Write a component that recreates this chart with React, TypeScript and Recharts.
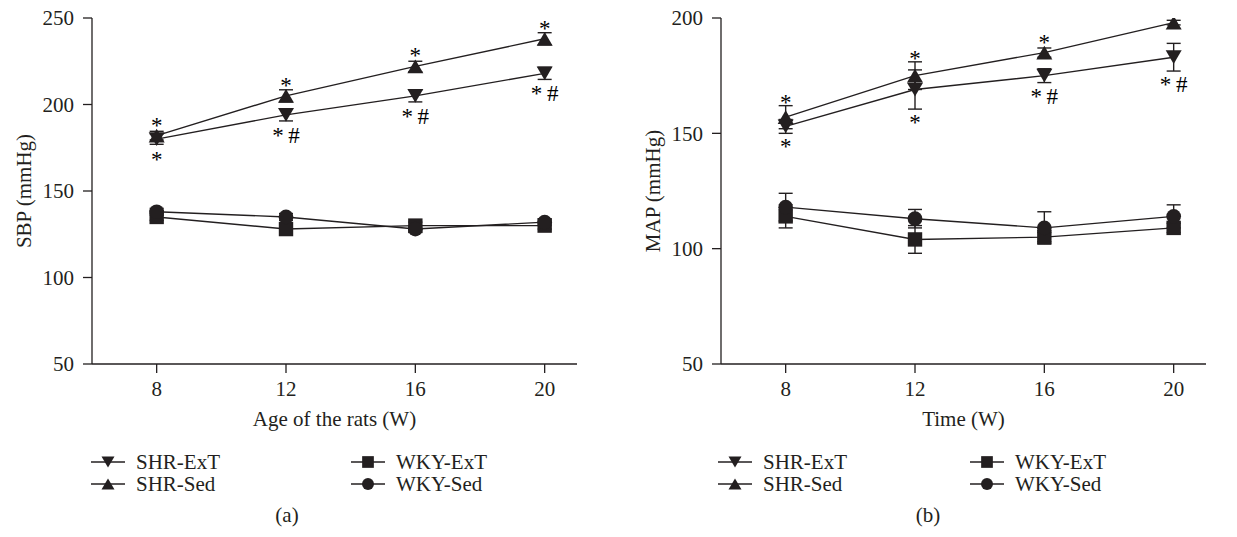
import React from 'react';
import { LineChart, Line, XAxis, YAxis, ErrorBar, Legend } from 'recharts';

// weeks on the x axis
const weeks = [8, 12, 16, 20];
const weekTicks = [8, 12, 16, 20];

// (a) SBP, mmHg
const sbpTicks = [50, 100, 150, 200, 250];
const sbpShrExt = [180, 194, 205, 218];
const sbpShrExtErr = [3, 3.5, 3.5, 3.5];
const sbpShrSed = [182, 205, 222, 238];
const sbpShrSedErr = [2.5, 3.5, 3, 3.5];
const sbpWkyExt = [135, 128, 130, 130];
const sbpWkyExtErr = [2, 2, 2, 2];
const sbpWkySed = [138, 135, 128, 132];
const sbpWkySedErr = [2, 2, 2, 2];
const sbpSedMarks = ['*', '*', '*', '*'];
const sbpExtMarks = ['*', '*\u2009#', '*\u2009#', '*\u2009#'];

// (b) MAP, mmHg
const mapTicks = [50, 100, 150, 200];
const mapShrExt = [153, 169, 175, 183];
const mapShrExtErr = [3, 8.5, 3, 6];
const mapShrSed = [157, 175, 185, 198];
const mapShrSedErr = [5, 6, 2, 1];
const mapWkyExt = [114, 104, 105, 109];
const mapWkyExtErr = [5, 6, 2, 2];
const mapWkySed = [118, 113, 109, 114];
const mapWkySedErr = [6, 4, 7, 5];
const mapSedMarks = ['*', '*', '*', '*'];
const mapExtMarks = ['*', '*', '*\u2009#', '*\u2009#'];

const FONT = '"Liberation Serif", "Times New Roman", serif';
const INK = '#231f20';
const FS = 21;

const CHART_W = 608;
const CHART_H = 537;
const PLOT_TOP = 18;
const PLOT_H = 346;
const YAXIS_W = 92;
const XAXIS_H = 70;
const LEGEND_H = 103;

type Shape = 'down' | 'up' | 'square' | 'circle';

function Marker({ shape, cx, cy, s }: { shape: Shape; cx: number; cy: number; s: number }) {
  const h = s * 0.43;
  if (shape === 'up')
    return <path d={`M${cx - s / 2},${cy + h} L${cx + s / 2},${cy + h} L${cx},${cy - h} Z`} fill={INK} />;
  if (shape === 'down')
    return <path d={`M${cx - s / 2},${cy - h} L${cx + s / 2},${cy - h} L${cx},${cy + h} Z`} fill={INK} />;
  if (shape === 'square')
    return <rect x={cx - s * 0.45} y={cy - s * 0.45} width={s * 0.9} height={s * 0.9} fill={INK} />;
  return <circle cx={cx} cy={cy} r={s * 0.46} fill={INK} />;
}

type Series = {
  key: string;
  name: string;
  shape: Shape;
  values: number[];
  errs: number[];
  marks?: string[];
  side?: 'above' | 'below';
};

type Panel = {
  yLabel: string;
  xLabel: string;
  caption: string;
  captionX: number;
  legendCols: [number, number];
  domain: [number, number];
  ticks: number[];
  series: Series[];
};

const panels: Panel[] = [
  {
    yLabel: 'SBP (mmHg)',
    xLabel: 'Age of the rats (W)',
    caption: '(a)',
    captionX: 287,
    legendCols: [108, 368],
    domain: [50, 250],
    ticks: sbpTicks,
    series: [
      { key: 'shrExt', name: 'SHR-ExT', shape: 'down', values: sbpShrExt, errs: sbpShrExtErr, marks: sbpExtMarks, side: 'below' },
      { key: 'shrSed', name: 'SHR-Sed', shape: 'up', values: sbpShrSed, errs: sbpShrSedErr, marks: sbpSedMarks, side: 'above' },
      { key: 'wkyExt', name: 'WKY-ExT', shape: 'square', values: sbpWkyExt, errs: sbpWkyExtErr },
      { key: 'wkySed', name: 'WKY-Sed', shape: 'circle', values: sbpWkySed, errs: sbpWkySedErr },
    ],
  },
  {
    yLabel: 'MAP (mmHg)',
    xLabel: 'Time (W)',
    caption: '(b)',
    captionX: 299,
    legendCols: [106, 358],
    domain: [50, 200],
    ticks: mapTicks,
    series: [
      { key: 'shrExt', name: 'SHR-ExT', shape: 'down', values: mapShrExt, errs: mapShrExtErr, marks: mapExtMarks, side: 'below' },
      { key: 'shrSed', name: 'SHR-Sed', shape: 'up', values: mapShrSed, errs: mapShrSedErr, marks: mapSedMarks, side: 'above' },
      { key: 'wkyExt', name: 'WKY-ExT', shape: 'square', values: mapWkyExt, errs: mapWkyExtErr },
      { key: 'wkySed', name: 'WKY-Sed', shape: 'circle', values: mapWkySed, errs: mapWkySedErr },
    ],
  },
];

function LegendBox({ panel }: { panel: Panel }) {
  return (
    <svg width={CHART_W} height={LEGEND_H} style={{ display: 'block' }}>
      {panel.series.map((s, i) => {
        const mx = i < 2 ? panel.legendCols[0] : panel.legendCols[1];
        const my = i % 2 === 0 ? 28 : 50;
        return (
          <g key={s.key}>
            <line x1={mx - 17} x2={mx + 17} y1={my} y2={my} stroke={INK} strokeWidth={1.3} />
            <Marker shape={s.shape} cx={mx} cy={my} s={13} />
            <text x={mx + 28} y={my} dominantBaseline="central" fontSize={FS} fontFamily={FONT} fill={INK}>
              {s.name}
            </text>
          </g>
        );
      })}
      <text x={panel.captionX} y={81} textAnchor="middle" dominantBaseline="central" fontSize={FS} fontFamily={FONT} fill={INK}>
        {panel.caption}
      </text>
    </svg>
  );
}

function ChartPanel({ panel, left }: { panel: Panel; left: number }) {
  const data = weeks.map((w, i) => {
    const row: Record<string, number> = { week: w };
    panel.series.forEach((s) => {
      row[s.key] = s.values[i];
      row[s.key + 'Err'] = s.errs[i];
    });
    return row;
  });
  const ppu = PLOT_H / (panel.domain[1] - panel.domain[0]);

  const makeDot = (s: Series) => (props: any) => {
    const { cx, cy, index, payload } = props;
    const mark = s.marks ? s.marks[index] : null;
    const reach = Math.max(7, payload[s.key + 'Err'] * ppu);
    const ty = s.side === 'above' ? cy - reach + 4 : cy + reach + 21;
    return (
      <g key={`${s.key}-${index}`}>
        <Marker shape={s.shape} cx={cx} cy={cy} s={16} />
        {mark && (
          <text x={cx} y={ty} textAnchor="middle" fontSize={23} fontFamily={FONT} fill="#000">
            {mark}
          </text>
        )}
      </g>
    );
  };

  const yLabel = (props: any) => {
    const vb = props.viewBox || {};
    const cy = (vb.y ?? PLOT_TOP) + (vb.height ?? PLOT_H) / 2;
    return (
      <text x={24} y={cy} transform={`rotate(-90, 24, ${cy})`} textAnchor="middle" dominantBaseline="central"
        fontSize={FS} fontFamily={FONT} fill={INK}>
        {panel.yLabel}
      </text>
    );
  };

  const order = [panel.series[2], panel.series[3], panel.series[0], panel.series[1]];

  return (
    <div style={{ position: 'absolute', left, top: 0 }}>
      <LineChart width={CHART_W} height={CHART_H} data={data}
        margin={{ top: PLOT_TOP, right: CHART_W - YAXIS_W - 485, left: 0, bottom: 0 }}>
        <XAxis dataKey="week" type="number" domain={[6, 21]} ticks={weekTicks} allowDataOverflow
          height={XAXIS_H} tickSize={9} tickMargin={8}
          stroke={INK} strokeWidth={1.3}
          tick={{ fill: INK, fontSize: FS, fontFamily: FONT }}
          label={{ value: panel.xLabel, position: 'insideBottom', offset: 8, fill: INK, fontSize: FS, fontFamily: FONT }} />
        <YAxis type="number" domain={panel.domain} ticks={panel.ticks} allowDataOverflow
          width={YAXIS_W} tickSize={9} tickMargin={9}
          stroke={INK} strokeWidth={1.3}
          tick={{ fill: INK, fontSize: FS, fontFamily: FONT }}
          label={yLabel} />
        {order.map((s) => (
          <Line key={s.key} dataKey={s.key} name={s.name} stroke={INK} strokeWidth={1.4}
            dot={makeDot(s)} activeDot={false} isAnimationActive={false}>
            <ErrorBar dataKey={s.key + 'Err'} width={7} stroke={INK} strokeWidth={1.4} direction="y"
              isAnimationActive={false} />
          </Line>
        ))}
        <Legend verticalAlign="bottom" align="left" height={LEGEND_H}
          wrapperStyle={{ left: 0, width: CHART_W, height: LEGEND_H }}
          content={() => <LegendBox panel={panel} />} />
      </LineChart>
    </div>
  );
}

export default function App() {
  return (
    <div style={{ position: 'absolute', left: 0, top: 0, width: 1237, height: 537, background: '#fff' }}>
      <ChartPanel panel={panels[0]} left={0} />
      <ChartPanel panel={panels[1]} left={629} />
    </div>
  );
}
